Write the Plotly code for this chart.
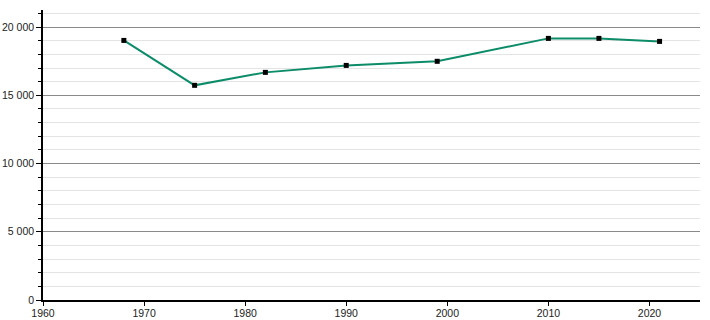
import plotly.graph_objects as go

years = [1968, 1975, 1982, 1990, 1999, 2010, 2015, 2021]
population = [19020, 15730, 16680, 17190, 17490, 19170, 19170, 18950]
x_tick_values = [1960, 1970, 1980, 1990, 2000, 2010, 2020]
y_tick_values = [0, 5000, 10000, 15000, 20000]

fig = go.Figure()
fig.add_trace(go.Scatter(
    x=years, y=population, mode="lines+markers",
    line=dict(color="#0c8c68", width=2),
    marker=dict(symbol="square", size=5, color="black"),
    hoverinfo="x+y",
))

fig.update_layout(
    width=710, height=320,
    margin=dict(l=43, r=10, t=10, b=20, autoexpand=False),
    paper_bgcolor="white", plot_bgcolor="white",
    separators=". ",
    showlegend=False,
    font=dict(family="Liberation Sans, Arial, sans-serif", size=10.5, color="#222"),
)
fig.update_xaxes(
    range=[1960, 2025], tickvals=x_tick_values, automargin=False,
    tickfont=dict(color="#222", size=10.5),
    showgrid=False, zeroline=False,
    showline=True, linecolor="black", linewidth=1.5,
    ticks="outside", ticklen=4, tickcolor="black",
    ticklabelstandoff=-1,
)
fig.update_yaxes(
    range=[0, 21250], tickvals=y_tick_values, tickformat=",d", automargin=False,
    tickfont=dict(color="#222", size=10.5),
    showgrid=True, gridcolor="#8a8a8a", gridwidth=1,
    zeroline=False,
    showline=True, linecolor="black", linewidth=1.5,
    ticks="outside", ticklen=5, tickcolor="black",
    minor=dict(dtick=1000, showgrid=True, gridcolor="#e4e4e4", gridwidth=1,
               ticks="outside", ticklen=3, tickcolor="black"),
)

fig.write_html("out.html")
